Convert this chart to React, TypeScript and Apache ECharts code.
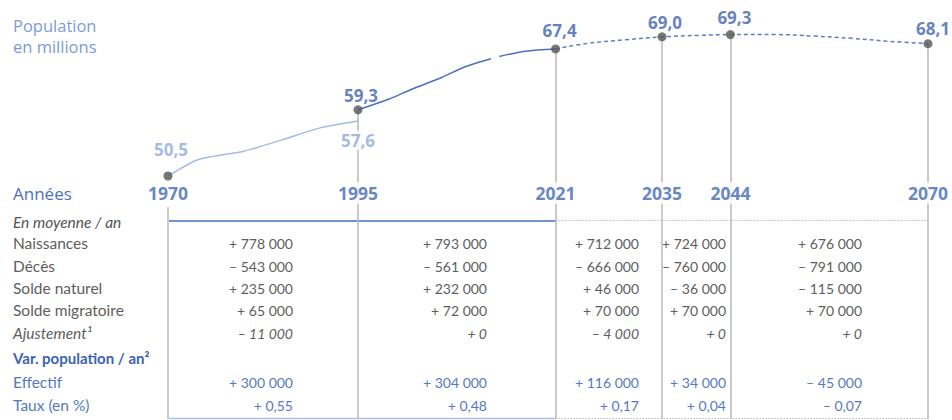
import React, { useEffect, useRef } from "react";
import * as echarts from "echarts";

// ---- Data ----
const keyYears = [1970, 1995, 2021, 2035, 2044, 2070];
const keyPop = [50.5, 59.3, 67.4, 69.0, 69.3, 68.1];

const oldYears = [1970, 1974, 1980, 1985, 1990, 1995];
const oldPop = [50.5, 52.7, 53.8, 55.3, 56.9, 57.8];
const oldEndYear = 1995;
const oldEndValue = 57.6;

const obsYears = [1995, 1999, 2002, 2006, 2009, 2012.5, 2013, 2013.6, 2017, 2021];
const obsPop = [59.3, 60.7, 62.0, 63.6, 65.0, 66.1, null, 66.4, 67.1, 67.4];

const projYears = [2021, 2025, 2030, 2035, 2040, 2044, 2050, 2055, 2060, 2065, 2070];
const projPop = [67.4, 68.1, 68.6, 69.0, 69.2, 69.3, 69.3, 69.1, 68.8, 68.4, 68.1];

const naissances = [778000, 793000, 712000, 724000, 676000];
const deces = [-543000, -561000, -666000, -760000, -791000];
const soldeNaturel = [235000, 232000, 46000, -36000, -115000];
const soldeMigratoire = [65000, 72000, 70000, 70000, 70000];
const ajustement = [-11000, 0, -4000, 0, 0];
const effectif = [300000, 304000, 116000, 34000, -45000];
const taux = [0.55, 0.48, 0.17, 0.04, -0.07];

// ---- Layout / style constants ----
const Y_MIN = 18.2;
const Y_MAX = 72;
const YEAR_LABEL_V = 48.24;
const FIRST_LINE_TOP_V = 46.38;
const colRight = [293, 487, 639, 726, 862];
const rowY = [222, 243, 266, 288, 310, 333, 358, 382, 405];
const TOP_RULE_Y = 221;
const BOTTOM_RULE_Y = 418.5;

const HEAD_FONT = "'Open Sans', 'Noto Sans', sans-serif";
const TABLE_FONT = "Lato, 'Open Sans', sans-serif";
const DARK_BLUE = "#3b61b0";
const LIGHT_BLUE = "#8ca8dd";
const GREY_TXT = "#5e5e5e";
const BLUE_TXT = "#5679c4";

const labelOffsets = [
  [3, -11],
  [3, 1],
  [4, -3],
  [3, 1],
  [4, -2],
  [5, 0],
];

function fmtInt(v: number): string {
  const sign = v < 0 ? "–" : "+";
  const abs = Math.abs(v);
  const s = String(abs).replace(/\B(?=(\d{3})+(?!\d))/g, " ");
  return sign + " " + s;
}
function fmtRate(v: number): string {
  const sign = v < 0 ? "–" : "+";
  return sign + " " + Math.abs(v).toFixed(2).replace(".", ",");
}
function fmtPop(v: number): string {
  return v.toFixed(1).replace(".", ",");
}

export default function App() {
  const ref = useRef<HTMLDivElement>(null);

  useEffect(() => {
    document.body.style.margin = "0";
    if (!ref.current) return;
    const chart = echarts.init(ref.current, null, { renderer: "svg" });

    const zip = (xs: number[], ys: (number | null)[]) =>
      xs.map((x, i) => [x, ys[i] === null ? "-" : ys[i]]);

    chart.setOption({
      animation: false,
      textStyle: { fontFamily: HEAD_FONT },
      grid: { left: 168, right: 24, top: 14.3, bottom: 1.1 },
      xAxis: { type: "value", min: 1970, max: 2070, show: false },
      yAxis: { type: "value", min: Y_MIN, max: Y_MAX, show: false },
      series: [
        {
          name: "vlines",
          type: "line",
          data: [],
          z: 1,
          silent: true,
          markLine: {
            symbol: "none",
            silent: true,
            label: { show: false },
            lineStyle: { color: "#b9b9b9", width: 1.5, type: "solid" },
            data: keyYears.map((y, i) => [
              { coord: [y, i === 0 ? FIRST_LINE_TOP_V : keyPop[i]] },
              { coord: [y, Y_MIN] },
            ]),
          },
        },
        {
          name: "old",
          type: "line",
          data: zip(oldYears, oldPop),
          showSymbol: false,
          smooth: 0.2,
          z: 3,
          lineStyle: { color: "#a3bbe7", width: 1.5 },
        },
        {
          name: "obs",
          type: "line",
          data: zip(obsYears, obsPop),
          showSymbol: false,
          connectNulls: false,
          smooth: 0.3,
          z: 3,
          lineStyle: { color: "#4a70c2", width: 1.5 },
        },
        {
          name: "proj",
          type: "line",
          data: zip(projYears, projPop),
          showSymbol: false,
          smooth: 0.4,
          z: 3,
          lineStyle: { color: "#5a7fc8", width: 1.5, type: [4, 3] },
        },
        {
          name: "oldEnd",
          type: "scatter",
          z: 6,
          symbolSize: 1,
          itemStyle: { color: "transparent" },
          data: [[oldEndYear, oldEndValue]],
          label: {
            show: true,
            position: "bottom",
            distance: 8,
            formatter: (p: any) => fmtPop(p.value[1]),
            color: LIGHT_BLUE,
            fontWeight: "bold",
            fontSize: 17,
            fontFamily: HEAD_FONT,
            backgroundColor: "#fff",
            padding: [1, 2],
          },
        },
        {
          name: "years",
          type: "scatter",
          z: 6,
          symbolSize: 1,
          itemStyle: { color: "transparent" },
          data: keyYears.map((y) => [y, YEAR_LABEL_V]),
          label: {
            show: true,
            position: "inside",
            formatter: (p: any) => String(p.value[0]),
            color: "#3d66b8",
            fontWeight: "bold",
            fontSize: 17.5,
            fontFamily: HEAD_FONT,
            backgroundColor: "#fff",
            padding: [2, 3],
          },
        },
        {
          name: "dots",
          type: "scatter",
          z: 7,
          symbolSize: 9,
          itemStyle: { color: "#555555" },
          data: keyYears.map((y, i) => ({
            value: [y, keyPop[i]],
            label: {
              offset: labelOffsets[i],
              color: i === 0 ? LIGHT_BLUE : DARK_BLUE,
            },
          })),
          label: {
            show: true,
            position: "top",
            distance: 2,
            formatter: (p: any) => fmtPop(p.value[1]),
            fontWeight: "bold",
            fontSize: 17,
            fontFamily: HEAD_FONT,
          },
        },
      ],
    });

    const px = (yr: number) =>
      chart.convertToPixel({ xAxisIndex: 0 }, yr) as unknown as number;
    const x1970 = px(1970);
    const x2021 = px(2021);
    const x2070 = px(2070);

    const txt = (text: string, x: number, y: number, opts: any = {}) => ({
      type: "text",
      silent: true,
      style: {
        text,
        x,
        y,
        textAlign: opts.align || "left",
        align: opts.align || "left",
        textVerticalAlign: "middle",
        verticalAlign: "middle",
        fill: opts.fill || GREY_TXT,
        fontSize: opts.fontSize || 15.5,
        fontFamily: opts.fontFamily || TABLE_FONT,
        fontWeight: opts.fontWeight || "normal",
        fontStyle: opts.fontStyle || "normal",
      },
    });

    const g: any[] = [];
    g.push(txt("Population", 13, 25, { fill: "#7b9bd8", fontSize: 16.5, fontFamily: HEAD_FONT }));
    g.push(txt("en millions", 13, 46, { fill: "#7b9bd8", fontSize: 16.5, fontFamily: HEAD_FONT }));
    g.push(txt("Années", 13, 193, { fill: "#4b70c0", fontSize: 17, fontFamily: HEAD_FONT }));

    // rules
    g.push({
      type: "line",
      silent: true,
      shape: { x1: x1970 + 1, y1: TOP_RULE_Y, x2: x2021, y2: TOP_RULE_Y },
      style: { stroke: "#6f93d8", lineWidth: 2 },
    });
    g.push({
      type: "line",
      silent: true,
      shape: { x1: x2021, y1: TOP_RULE_Y - 0.5, x2: x2070, y2: TOP_RULE_Y - 0.5 },
      style: { stroke: "#9a9a9a", lineWidth: 1, lineDash: [1, 2] },
    });
    g.push({
      type: "line",
      silent: true,
      shape: { x1: x1970 + 1, y1: BOTTOM_RULE_Y, x2: x2021, y2: BOTTOM_RULE_Y },
      style: { stroke: "#aac0e8", lineWidth: 1.5 },
    });
    g.push({
      type: "line",
      silent: true,
      shape: { x1: x2021, y1: BOTTOM_RULE_Y, x2: x2070, y2: BOTTOM_RULE_Y },
      style: { stroke: "#9a9a9a", lineWidth: 1, lineDash: [1, 2] },
    });

    // row labels
    g.push(txt("En moyenne / an", 13, rowY[0], { fontStyle: "italic", fill: "#555" }));
    g.push(txt("Naissances", 13, rowY[1]));
    g.push(txt("Décès", 13, rowY[2]));
    g.push(txt("Solde naturel", 13, rowY[3]));
    g.push(txt("Solde migratoire", 13, rowY[4]));
    g.push(txt("Ajustement¹", 13, rowY[5], { fontStyle: "italic" }));
    g.push(
      txt("Var. population / an²", 13, rowY[6], {
        fontWeight: "bold",
        fill: "#3d63b0",
        fontSize: 15,
      })
    );
    g.push(txt("Effectif", 13, rowY[7], { fill: BLUE_TXT }));
    g.push(txt("Taux (en %)", 13, rowY[8], { fill: BLUE_TXT }));

    const rows: [number[], number, any, (v: number) => string][] = [
      [naissances, rowY[1], {}, fmtInt],
      [deces, rowY[2], {}, fmtInt],
      [soldeNaturel, rowY[3], {}, fmtInt],
      [soldeMigratoire, rowY[4], {}, fmtInt],
      [ajustement, rowY[5], { fontStyle: "italic" }, fmtInt],
      [effectif, rowY[7], { fill: BLUE_TXT }, fmtInt],
      [taux, rowY[8], { fill: BLUE_TXT }, fmtRate],
    ];
    rows.forEach(([vals, y, st, f]) => {
      vals.forEach((v, j) => {
        g.push(txt(f(v), colRight[j], y, { ...st, align: "right", fontSize: 14 }));
      });
    });

    chart.setOption({ graphic: g });

    return () => chart.dispose();
  }, []);

  return <div ref={ref} style={{ width: 952, height: 420 }} />;
}
